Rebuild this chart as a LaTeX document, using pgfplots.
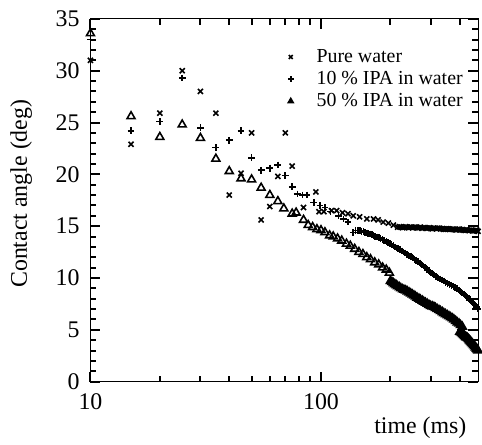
\documentclass[border=0pt]{standalone}
\usepackage{fontspec}
\setmainfont{Liberation Serif}
\usepackage{pgfplots}
\pgfplotsset{compat=1.18}
\begin{document}
\begin{tikzpicture}
\begin{axis}[
  at={(0,0)}, anchor=south west,
  scale only axis, width=195pt, height=182.5pt,
  xmode=log, xmin=10, xmax=480, ymin=0, ymax=35,
  xtick={10,100}, xticklabels={10,100},
  minor xtick={20,30,40,50,60,70,80,90,200,300,400},
  ytick={0,5,10,15,20,25,30,35}, yticklabels={0,5,10,15,20,25,30,35},
  minor ytick={1,2,3,4,6,7,8,9,11,12,13,14,16,17,18,19,21,22,23,24,26,27,28,29,31,32,33,34},
  tick align=inside,
  major tick length=5pt, minor tick length=3pt,
  tick style={black, line width=1pt},
  ticklabel style={font=\fontsize{12}{14}\selectfont},
  yticklabel style={xshift=-2pt},
  xticklabel style={yshift=-2.5pt},
  xlabel={time (ms)}, ylabel={Contact angle (deg)},
  label style={font=\fontsize{12}{14}\selectfont},
  xlabel style={at={(axis description cs:0.851,-0.126)}, anchor=center},
  ylabel style={at={(axis description cs:-0.179,0.518)}, anchor=center},
  legend image code/.code={\path[draw=none,fill=none] (0pt,0pt) -- (14pt,0pt); \draw[#1,only marks,mark size=1.4pt] plot coordinates {(3pt,0pt)};},
  legend style={at={(axis description cs:0.485,0.94)}, anchor=north west,
    draw=none, fill=none, font=\fontsize{10}{11}\selectfont, row sep=-1pt},
  legend cell align=left,
]
% Pure water
\addplot[only marks, black, line width=0.8pt, mark=x, mark size=1.8pt] coordinates {
(10,31.0) (15,22.9) (20,25.9) (25,30.0) (30,28.0) (35,25.9) (40,18.0) (45,20.1)
(50,24.0) (55,15.6) (60,16.9) (65,19.8) (70,24.0) (75,20.8) (84,16.8) (95,18.3)
(98,16.4) (103,16.4) (111,16.5) (117,16.5) (124,16.3) (131,16.2) (138,16.0) (147,15.9)
(158,15.7) (169,15.7) (177,15.6) (186,15.4) (196,15.3) (206,15.1)
(215,14.9) (219,14.95) (222,14.9) (226,14.85) (229,14.9) (233,14.95) (236,14.9) (240,14.85)
(243,14.9) (247,14.9) (250,14.85) (254,14.9) (258,14.9) (262,14.85) (266,14.85) (270,14.9)
(274,14.8) (278,14.85) (282,14.85) (286,14.8) (290,14.8) (295,14.85) (299,14.8) (304,14.75)
(308,14.8) (312,14.8) (317,14.75) (321,14.8) (326,14.8) (331,14.75) (336,14.75) (341,14.7)
(346,14.7) (351,14.75) (356,14.75) (361,14.7) (366,14.7) (371,14.7) (377,14.7) (382,14.65)
(388,14.65) (393,14.7) (399,14.7) (405,14.65) (411,14.65) (417,14.6) (423,14.6) (429,14.65)
(435,14.6) (441,14.6) (448,14.6) (454,14.55) (461,14.55) (467,14.6) (474,14.6) (480,14.5)
};
\addlegendentry{Pure water}
% 10 % IPA
\addplot[only marks, black, line width=0.8pt, mark=+, mark size=1.7pt] coordinates {
(10,33.0) (15,24.2) (20,25.1) (25,29.3) (30,24.5) (35,22.6) (40,23.3) (45,24.2)
(50,21.6) (55,20.4) (60,20.6) (65,20.9) (70,19.9) (75,18.8) (79,18.1) (83,18.0)
(87,18.0) (93,17.3) (99,17.0) (104,16.8) (110,16.4) (119,16.0) (125,15.7) (131,15.4)
(138,14.4) (141,14.6) (145,14.6) (148,14.55) (150,14.5) (153,14.45) (155,14.4) (158,14.35)
(160,14.3) (163,14.25) (166,14.2) (169,14.1) (172,14.0) (175,13.95) (178,13.9) (181,13.8)
(185,13.7) (188,13.6) (192,13.5) (195,13.4) (199,13.3) (202,13.2) (206,13.1) (209,13.0)
(213,12.9) (216,12.85) (220,12.75) (224,12.6) (228,12.5) (232,12.4) (236,12.3) (240,12.2)
(245,12.1) (249,11.95) (254,11.8) (258,11.7) (263,11.6) (268,11.45) (273,11.3) (278,11.15)
(283,11.0) (288,10.85) (294,10.7) (299,10.55) (305,10.4) (310,10.3) (316,10.15) (322,10.0)
(328,9.9) (334,9.8) (341,9.7) (347,9.6) (354,9.5) (361,9.4) (368,9.3) (375,9.2)
(382,9.1) (389,8.95) (396,8.85) (403,8.7) (410,8.55) (417,8.45) (424,8.3) (431,8.15)
(438,8.0) (445,7.85) (452,7.7) (459,7.55) (466,7.4) (473,7.2) (480,7.0)
};
\addlegendentry{10 \% IPA in water}
% 50 % IPA, open triangles
\addplot[only marks, black, line width=0.8pt, mark=triangle, mark size=2.3pt, forget plot] coordinates {
(10,33.6) (15,25.6) (20,23.6) (25,24.8) (30,23.5) (35,21.5) (40,20.3) (45,19.6)
(50,19.5) (55,18.7) (60,18.0) (65,17.4) (69,16.7) (75,16.2) (78,16.3) (84,15.6)
(88,15.1) (92,14.9) (96,14.7) (100,14.6) (104,14.4) (109,14.1) (113,14.0) (118,13.8)
(123,13.6) (129,13.3) (134,13.1) (140,12.8) (146,12.5) (152,12.3) (158,12.0) (164,11.8)
(171,11.5) (178,11.3) (185,11.0) (192,10.8) (198,10.5)
};
% 50 % IPA, filled triangles
\addplot[only marks, black, line width=0.8pt, mark=triangle*, mark size=2.3pt] coordinates {
(200,9.7) (203,9.6) (206,9.5) (209,9.4) (212,9.3) (215,9.2) (219,9.1) (222,9.0)
(226,8.9) (229,8.85) (233,8.8) (237,8.7) (241,8.6) (245,8.5) (249,8.4) (253,8.3)
(257,8.2) (261,8.1) (266,8.0) (270,7.9) (275,7.8) (279,7.7) (284,7.6) (289,7.5)
(294,7.4) (299,7.3) (304,7.25) (309,7.2) (314,7.1) (319,7.0) (325,6.9) (330,6.8)
(336,6.7) (341,6.6) (347,6.5) (353,6.4) (359,6.3) (365,6.2) (371,6.1) (377,6.0)
(384,5.85) (390,5.7) (397,5.6) (403,5.45) (410,5.3)
(400,4.8) (404,4.75) (408,4.7) (412,4.6) (416,4.5) (420,4.4) (424,4.3) (428,4.25)
(432,4.2) (436,4.1) (440,4.0) (444,3.9) (448,3.8) (452,3.7) (456,3.6) (460,3.5)
(464,3.4) (468,3.3) (472,3.2) (476,3.1) (480,3.0)
};
\addlegendentry{50 \% IPA in water}
\end{axis}
\path[use as bounding box] (-45.5pt,-28.5pt) rectangle (195.5pt,192pt);
\end{tikzpicture}
\end{document}
